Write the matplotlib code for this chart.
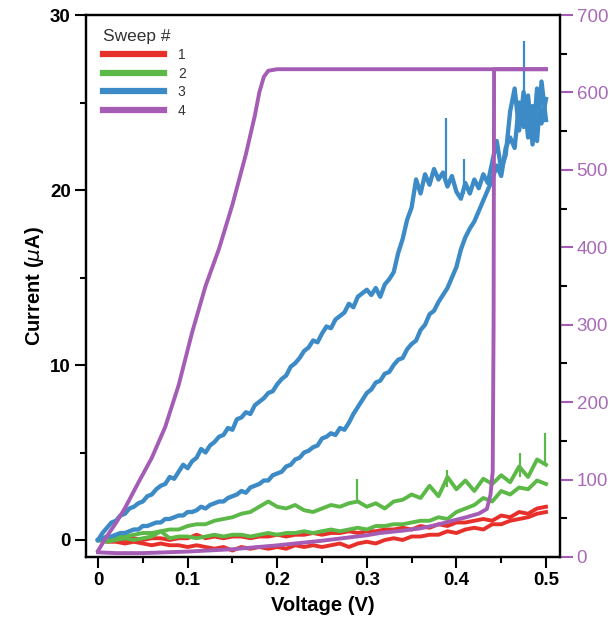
import numpy as np
import matplotlib
matplotlib.use("Agg")
import matplotlib.pyplot as plt
from matplotlib.lines import Line2D
from matplotlib.ticker import MultipleLocator

plt.rcParams['font.family'] = ['Liberation Sans', 'DejaVu Sans']

# voltage grids of the sweeps (V)
v_fine = np.round(np.arange(0, 0.5001, 0.005), 3)
v_coarse = np.round(np.arange(0, 0.5001, 0.01), 2)

# sweep 3 (uA), two branches on the fine grid
blue_up = [0.0, 0.4, 0.7, 1.0, 1.1, 1.4, 1.5, 1.8, 1.9, 2.1,
           2.2, 2.5, 2.6, 2.9, 3.1, 3.2, 3.6, 3.5, 3.9, 4.3,
           4.1, 4.5, 4.7, 5.2, 5.0, 5.4, 5.6, 5.9, 6.0, 6.4,
           6.3, 6.9, 7.0, 7.3, 7.2, 7.7, 7.9, 8.1, 8.4, 8.5,
           8.9, 9.2, 9.4, 9.9, 10.1, 10.4, 10.8, 11.0, 11.4, 11.3,
           11.8, 12.2, 12.1, 12.6, 12.8, 13.0, 13.5, 13.3, 13.9, 14.1,
           14.3, 14.0, 14.4, 13.9, 14.6, 14.9, 15.3, 16.4, 17.2, 18.3,
           19.0, 20.6, 19.8, 20.9, 20.3, 21.2, 20.6, 21.0, 20.2, 20.8,
           19.9, 19.5, 20.4, 19.8, 20.6, 20.1, 20.9, 20.4, 21.6, 22.8,
           21.2, 22.0, 24.5, 25.8, 23.4, 25.6, 23.0, 24.8, 22.8, 26.2,
           24.0]
blue_down = [0.0, 0.1, 0.2, 0.2, 0.3, 0.4, 0.4, 0.5, 0.6, 0.6,
             0.8, 0.8, 0.9, 1.0, 1.0, 1.2, 1.2, 1.3, 1.4, 1.4,
             1.6, 1.6, 1.7, 1.9, 1.8, 2.0, 2.1, 2.2, 2.2, 2.4,
             2.5, 2.6, 2.8, 2.7, 3.0, 3.1, 3.2, 3.4, 3.4, 3.7,
             3.8, 3.9, 4.2, 4.3, 4.6, 4.7, 5.0, 5.1, 5.3, 5.4,
             5.8, 5.9, 6.1, 6.0, 6.4, 6.3, 6.7, 7.2, 7.6, 8.0,
             8.4, 8.6, 9.0, 9.1, 9.5, 9.6, 10.0, 10.3, 10.4, 10.9,
             11.2, 11.4, 12.0, 12.3, 12.9, 13.1, 13.6, 14.0, 14.4, 15.0,
             15.6, 16.6, 17.3, 17.8, 18.2, 18.8, 19.4, 20.0, 20.6, 21.4,
             20.8, 22.4, 23.0, 22.4, 25.0, 23.6, 25.4, 22.6, 25.8, 23.8,
             25.2]

# sweep 2 (uA), coarse grid
green_up = [0.0, 0.1, 0.2, 0.2, 0.3, 0.4, 0.4, 0.5, 0.6, 0.6,
            0.8, 0.9, 0.9, 1.1, 1.2, 1.3, 1.5, 1.6, 1.9, 2.2,
            1.9, 1.8, 2.0, 1.7, 1.6, 1.8, 2.0, 1.9, 2.1, 2.2,
            1.9, 2.1, 1.8, 2.2, 2.3, 2.6, 2.4, 3.1, 2.5, 3.6,
            2.9, 3.4, 2.8, 3.5, 3.2, 3.7, 3.3, 4.2, 3.6, 4.6,
            4.3]
green_down = [0.0, -0.1, 0.0, 0.1, 0.0, 0.1, 0.2, 0.5, 0.1, 0.2,
              0.2, 0.1, 0.2, 0.3, 0.2, 0.3, 0.3, 0.2, 0.3, 0.4,
              0.3, 0.4, 0.4, 0.5, 0.4, 0.5, 0.6, 0.5, 0.6, 0.7,
              0.6, 0.8, 0.8, 0.9, 0.9, 1.0, 1.1, 1.1, 1.3, 1.2,
              1.6, 1.8, 2.0, 2.4, 2.2, 2.8, 2.6, 3.0, 2.9, 3.4,
              3.2]

# sweep 1 (uA), coarse grid
red_up = [0.0, 0.0, 0.1, 0.0, 0.1, 0.0, 0.1, 0.1, 0.0, 0.1,
          0.1, 0.3, 0.1, 0.2, 0.1, 0.2, 0.2, 0.1, 0.2, 0.2,
          0.3, 0.2, 0.3, 0.3, 0.4, 0.3, 0.4, 0.4, 0.5, 0.4,
          0.5, 0.5, 0.6, 0.6, 0.7, 0.6, 0.8, 0.7, 0.9, 0.8,
          1.0, 1.0, 1.1, 1.2, 1.1, 1.4, 1.3, 1.6, 1.5, 1.8,
          1.9]
red_down = [0.0, -0.1, -0.1, -0.2, -0.1, -0.2, -0.3, -0.2, -0.3, -0.3,
            -0.4, -0.3, -0.4, -0.5, -0.4, -0.6, -0.4, -0.5, -0.4, -0.5,
            -0.4, -0.5, -0.3, -0.4, -0.3, -0.4, -0.3, -0.2, -0.4, -0.2,
            -0.1, -0.2, 0.0, 0.1, 0.0, 0.2, 0.2, 0.3, 0.3, 0.5,
            0.4, 0.6, 0.7, 0.6, 0.9, 0.9, 1.1, 1.2, 1.3, 1.5,
            1.6]

# narrow current spikes (V, base, top) in uA
blue_spike_v = [0.388, 0.408, 0.475]
blue_spike_lo = [20.5, 19.8, 24.0]
blue_spike_hi = [24.1, 21.8, 28.5]
green_spike_v = [0.289, 0.389, 0.471, 0.499]
green_spike_lo = [2.1, 3.0, 3.6, 4.3]
green_spike_hi = [3.5, 4.0, 5.0, 6.1]

# sweep 4 (right axis), forward and return
purple_fwd_v = [0, 0.01, 0.02, 0.03, 0.045, 0.06, 0.075, 0.09, 0.105, 0.12,
                0.135, 0.15, 0.165, 0.175, 0.18, 0.185, 0.19, 0.2, 0.3, 0.4, 0.5]
purple_fwd_i = [8, 27, 44, 63, 96, 128, 168, 222, 290, 350,
                398, 455, 520, 570, 600, 620, 628, 630, 630, 630, 630]
purple_ret_v = [0.5, 0.442, 0.442, 0.4415, 0.4405, 0.438, 0.434, 0.425, 0.41, 0.396,
                0.38, 0.36, 0.34, 0.315, 0.3, 0.25, 0.2, 0.15, 0.1, 0.05, 0.02, 0]
purple_ret_i = [630, 630, 600, 300, 110, 80, 62, 56, 51, 47,
                42, 37, 34, 31, 28, 21, 15, 10, 7, 5, 5, 6]

red = '#e8302a'
green = '#5cb947'
blue = '#3d8bc6'
purple = '#a45cb5'
purple_text = '#a86ab8'

fig = plt.figure(figsize=(6.11, 6.28), dpi=100)
ax = fig.add_axes([0.1408, 0.1131, 0.7757, 0.863])

lw = 2.8
ax.plot(v_coarse, red_down, color=red, lw=lw)
ax.plot(v_coarse, red_up, color=red, lw=lw)
ax.plot(v_coarse, green_down, color=green, lw=lw)
ax.plot(v_coarse, green_up, color=green, lw=lw)
ax.vlines(green_spike_v, green_spike_lo, green_spike_hi, color=green, lw=1.6)
ax.plot(v_fine, blue_down, color=blue, lw=3.1)
ax.plot(v_fine, blue_up, color=blue, lw=3.1)
ax.vlines(blue_spike_v, blue_spike_lo, blue_spike_hi, color=blue, lw=1.6)

ax2 = ax.twinx()
ax2.plot(purple_fwd_v, purple_fwd_i, color=purple, lw=lw, solid_joinstyle='round')
ax2.plot(purple_ret_v, purple_ret_i, color=purple, lw=lw, solid_joinstyle='round')

ax.set_xlim(-0.0134, 0.5156)
ax.set_ylim(-0.97, 30)
ax2.set_ylim(0, 700)

ax.xaxis.set_major_locator(MultipleLocator(0.1))
ax.xaxis.set_minor_locator(MultipleLocator(0.05))
ax.yaxis.set_major_locator(MultipleLocator(10))
ax.yaxis.set_minor_locator(MultipleLocator(5))
ax2.yaxis.set_major_locator(MultipleLocator(100))
ax2.yaxis.set_minor_locator(MultipleLocator(50))
ax.set_xticks([0, 0.1, 0.2, 0.3, 0.4, 0.5], ['0', '0.1', '0.2', '0.3', '0.4', '0.5'])

for a in (ax, ax2):
    for s in a.spines.values():
        s.set_linewidth(1.6)
ax.tick_params(which='major', direction='out', length=8, width=1.5, labelsize=13.5, pad=3)
ax.tick_params(which='minor', direction='out', length=4, width=1.5)
ax2.tick_params(which='major', direction='out', length=9, width=1.5, labelsize=13.5,
                color=purple, labelcolor=purple_text, pad=3)
ax2.tick_params(which='minor', direction='out', length=5, width=1.5)
for lab in ax.get_xticklabels() + ax.get_yticklabels():
    lab.set_fontweight('bold')

ax.set_xlabel('Voltage (V)', fontsize=14.5, fontweight='bold', labelpad=5)
ax.set_ylabel(r'Current ($\mu$A)', fontsize=14.5, fontweight='bold', labelpad=3)

handles = [Line2D([], [], color=c, lw=4.5) for c in (red, green, blue, purple)]
leg = ax.legend(handles, ['1', '2', '3', '4'], title='Sweep #', loc='upper left',
                bbox_to_anchor=(0.018, 0.99), frameon=False, fontsize=10,
                title_fontsize=12.5, handlelength=4.4, labelspacing=0.32,
                handletextpad=1.0, alignment='left', borderaxespad=0.2)
for t in leg.get_texts():
    t.set_color('#333333')
leg.get_title().set_color('#333333')

fig.savefig('out.png', dpi=100)
